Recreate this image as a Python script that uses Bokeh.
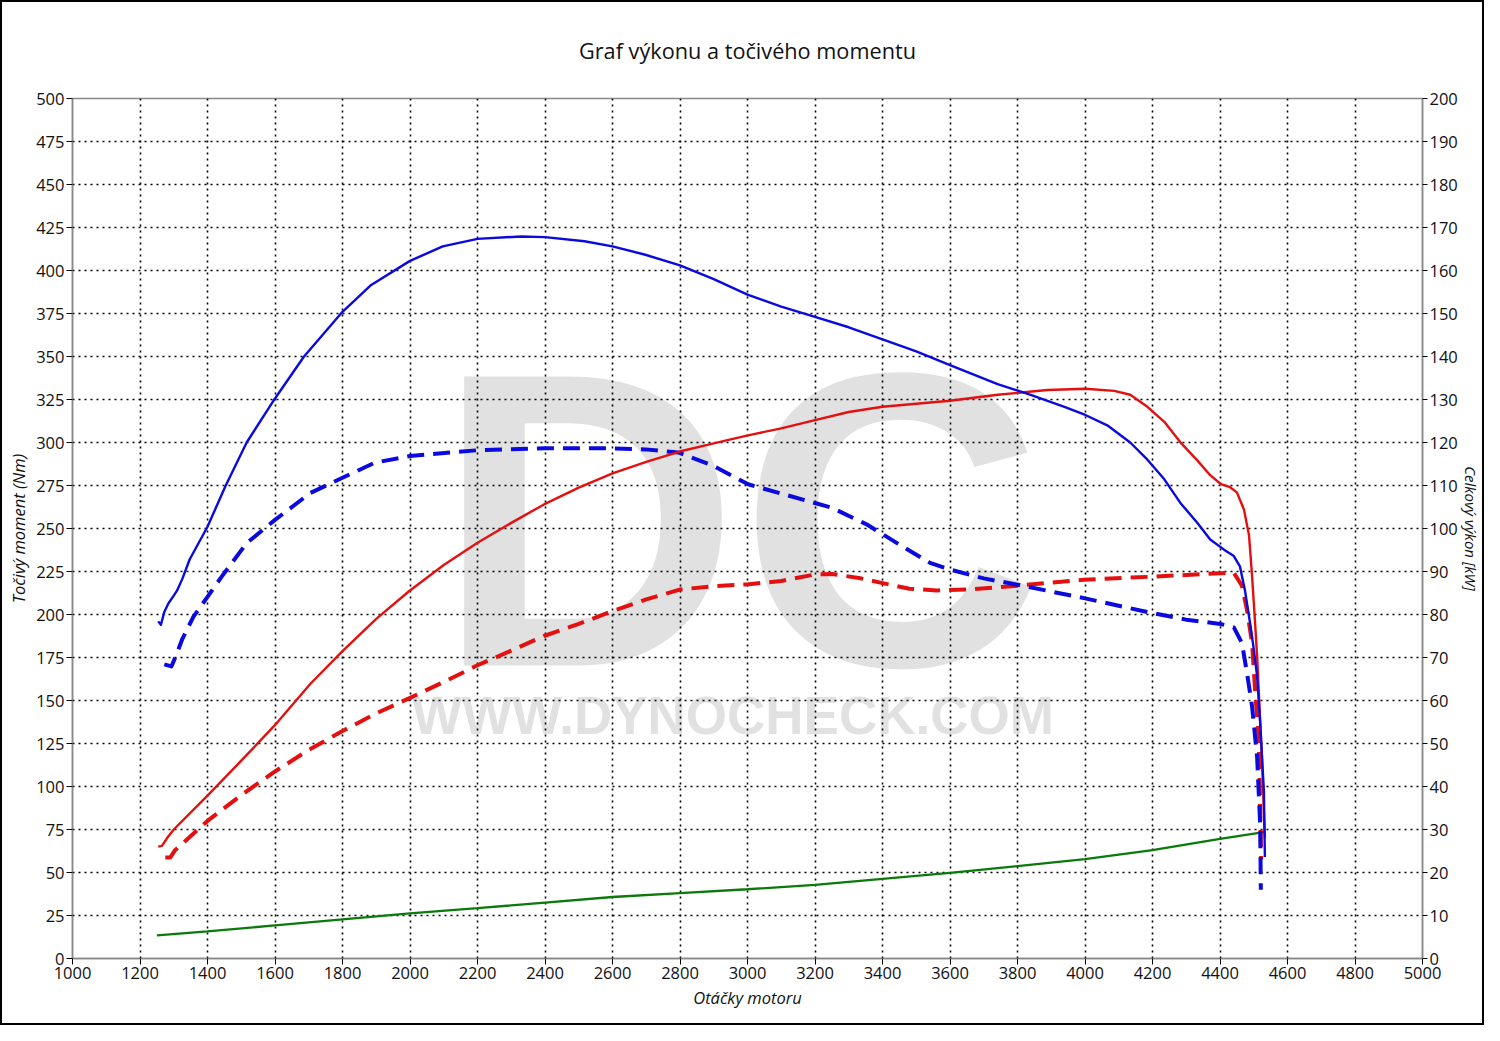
from bokeh.plotting import figure
from bokeh.models import Range1d, LinearAxis, FixedTicker, Title
from bokeh.core.properties import value
from bokeh.embed import file_html
from bokeh.resources import INLINE

# ---- data ----
rpm_ticks = list(range(1000, 5001, 200))
nm_ticks = list(range(0, 501, 25))
kw_ticks = list(range(0, 201, 10))

# Torque tuned (Nm) - blue solid
tq_tuned_rpm = [1254, 1262, 1272, 1284, 1300, 1310, 1326, 1347, 1400, 1453, 1516, 1600, 1686, 1800,
                1885, 2000, 2097, 2200, 2330, 2400, 2517, 2600, 2700, 2800, 2900, 3000, 3100, 3200,
                3300, 3400, 3500, 3600, 3741, 3839, 3939, 4001, 4066, 4134, 4185, 4235, 4282, 4332,
                4371, 4412, 4441, 4459, 4474, 4489, 4500, 4510, 4519, 4530, 4533]
tq_tuned = [196, 194, 201.5, 206.4, 211, 214, 221, 232, 251, 274.6, 300, 325.6, 350, 376,
            391.6, 405.6, 414, 418.4, 419.8, 419.4, 417, 414, 409, 403, 395, 386, 379, 373,
            367, 360, 353, 345, 334, 327.7, 320.7, 316, 310, 300, 290, 278.6, 265, 253.5,
            243.6, 237.7, 234, 228, 214, 195, 180, 164, 137, 97.5, 59]

# Torque stock (Nm) - blue dashed
tq_stock_rpm = [1272, 1293, 1305, 1326, 1358, 1400, 1442, 1516, 1600, 1705, 1800, 1895, 2000, 2200,
                2400, 2600, 2698, 2795, 2899, 3002, 3126, 3251, 3354, 3458, 3541, 3603, 3700, 3800,
                3997, 4200, 4300, 4401, 4441, 4465, 4480, 4495, 4510, 4519, 4521]
tq_stock = [171, 169.8, 175.3, 186, 198.6, 210.3, 222, 241.5, 255, 270.7, 279.5, 288.2, 292.2, 295.5,
            296.6, 296.6, 296, 294.2, 286.4, 275.7, 268.9, 262, 252.3, 239.7, 230, 226, 221, 217.3,
            209.5, 200.8, 197, 194.5, 192.5, 183.4, 166, 146.6, 117, 78, 40]

# Power tuned (kW) - red solid
pw_tuned_rpm = [1254, 1265, 1282, 1300, 1400, 1500, 1599, 1705, 1800, 1900, 1997, 2100, 2200, 2300,
                2397, 2500, 2600, 2700, 2799, 2900, 2998, 3100, 3200, 3300, 3400, 3500, 3600, 3741,
                3889, 4001, 4087, 4134, 4185, 4235, 4282, 4332, 4371, 4403, 4430, 4450, 4471, 4486,
                4495, 4504, 4510, 4524, 4533]
pw_tuned = [26, 26.2, 28.2, 30, 37.9, 46, 54.2, 63.9, 71.5, 79, 85.4, 91.5, 96.7, 101.3,
            105.6, 109.5, 112.8, 115.5, 117.9, 119.8, 121.6, 123.3, 125.2, 127.1, 128.3, 129, 129.7, 131.1,
            132.2, 132.5, 132, 131.1, 128.3, 124.8, 120.1, 115.9, 112.4, 110.3, 109.6, 108.4, 104.4, 98.4,
            89, 78, 70.3, 47, 28]

# Power stock (kW) - red dashed
pw_stock_rpm = [1275, 1290, 1303, 1400, 1500, 1600, 1700, 1800, 1900, 1997, 2100, 2200, 2300, 2397,
                2500, 2600, 2700, 2799, 2900, 2998, 3100, 3199, 3251, 3330, 3400, 3480, 3562, 3650,
                3800, 3997, 4200, 4401, 4441, 4465, 4480, 4495, 4504, 4515, 4518, 4522]
pw_stock = [23.5, 23.5, 25.1, 32, 38, 43.5, 48.5, 52.9, 57, 60.5, 64.3, 68.2, 71.6, 75,
            77.8, 80.8, 83.5, 85.8, 86.6, 87, 87.8, 89.3, 89.4, 88.5, 87.3, 86, 85.6, 85.8,
            86.7, 88.1, 88.8, 89.6, 89.7, 86.7, 81, 73.4, 62.4, 50.7, 39, 23]

# Loss power (kW) - green
loss_rpm = [1250, 1400, 1600, 1800, 2000, 2200, 2400, 2600, 2800, 3000, 3200, 3400, 3600, 3800,
            4000, 4200, 4400, 4530]
loss_kw = [5.4, 6.3, 7.7, 9.1, 10.5, 11.7, 13, 14.3, 15.2, 16.1, 17.1, 18.5, 19.9, 21.5,
           23.1, 25.2, 27.8, 29.4]

FONT = "Open Sans"
BLUE = "#0a0ae0"
RED = "#e41010"

p = figure(width=1480, height=1021, output_backend="svg", toolbar_location=None,
           x_range=Range1d(1000, 5000), y_range=Range1d(0, 500),
           min_border_left=70, min_border_right=64, min_border_top=96, min_border_bottom=69,
           background_fill_color="white", border_fill_color="white")
p.styles = {"border": "2px solid black", "box-sizing": "content-box"}
p.add_layout(Title(text="Graf výkonu a točivého momentu", align="center", text_font=FONT,
                   text_font_size="21.7px", text_font_style="normal", text_color="#111111",
                   vertical_align="top", standoff=64), "above")

p.extra_y_ranges = {"kw": Range1d(0, 200)}

# watermark
p.text(x=[2976], y=[255], text=["DC"], text_font=value("Liberation Sans"),
       text_font_style=value("bold"), text_font_size="420px", text_color="#e1e1e1",
       text_align="center", text_baseline="alphabetic", level="image")
p.text(x=[2957], y=[141], text=["WWW.DYNOCHECK.COM"], text_font=value("Liberation Sans"),
       text_font_style=value("bold"), text_font_size="53px", text_color="#e1e1e1",
       text_align="center", text_baseline="alphabetic", level="image")

# grid
for g in (p.xgrid, p.ygrid):
    g.grid_line_color = "black"
    g.grid_line_dash = "2 4"
    g.grid_line_width = 1.6
p.xgrid.ticker = FixedTicker(ticks=rpm_ticks)
p.ygrid.ticker = FixedTicker(ticks=nm_ticks)
p.outline_line_color = "#888888"
p.outline_line_width = 1.5

# axes
right = LinearAxis(y_range_name="kw", ticker=FixedTicker(ticks=kw_ticks),
                   axis_label="Celkový výkon [kW]")
p.add_layout(right, "right")
p.xaxis.ticker = FixedTicker(ticks=rpm_ticks)
p.yaxis[0].ticker = FixedTicker(ticks=nm_ticks)
p.xaxis.axis_label = "Otáčky motoru"
p.yaxis[0].axis_label = "Točivý moment (Nm)"
for ax in list(p.xaxis) + list(p.yaxis):
    ax.axis_line_color = "#888888"
    ax.axis_line_width = 1.5
    ax.major_tick_line_color = "black"
    ax.major_tick_out = 6
    ax.major_tick_in = 0
    ax.minor_tick_line_color = None
    ax.major_label_text_font = FONT
    ax.major_label_text_font_size = "16.5px"
    ax.major_label_text_color = "#111111"
    ax.axis_label_text_font = FONT
    ax.axis_label_text_font_size = "16.5px"
    ax.axis_label_text_font_style = "italic"
    ax.axis_label_text_color = "#111111"
    ax.major_label_standoff = 2
p.xaxis.axis_label_standoff = 4
p.yaxis[0].axis_label_standoff = 3
right.major_tick_out = 5
right.axis_label_standoff = 0
right.axis_label_text_font_size = "15px"

# lines
p.line(loss_rpm, loss_kw, y_range_name="kw", line_color="#0a7a0a", line_width=2.3)
p.line(pw_stock_rpm, pw_stock, y_range_name="kw", line_color=RED, line_width=4,
       line_dash="17 9", line_join="round")
p.line(tq_stock_rpm, tq_stock, line_color=BLUE, line_width=4, line_dash="17 9", line_join="round")
p.line(pw_tuned_rpm, pw_tuned, y_range_name="kw", line_color=RED, line_width=2.4, line_join="round")
p.line(tq_tuned_rpm, tq_tuned, line_color=BLUE, line_width=2.4, line_join="round")

open("out.html", "w").write(file_html(p, INLINE))
